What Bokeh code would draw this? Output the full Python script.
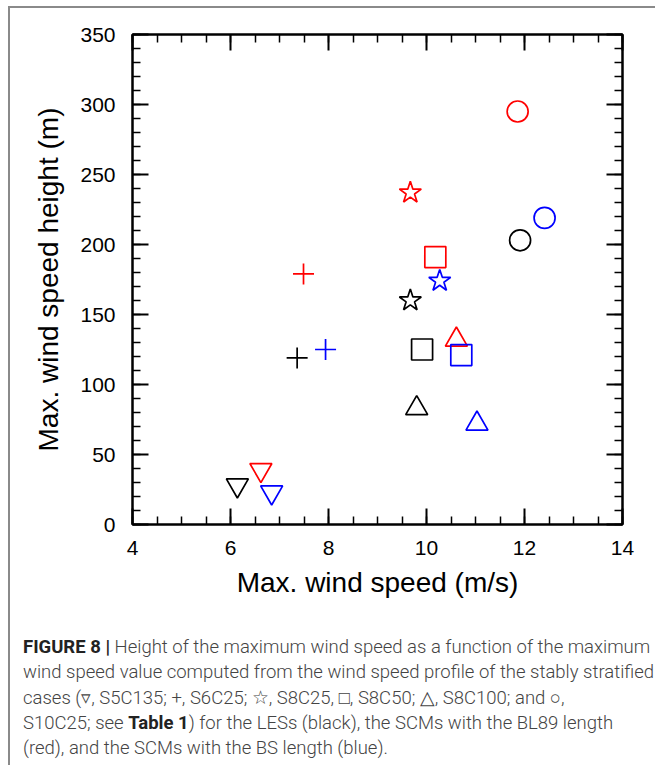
from bokeh.plotting import figure
from bokeh.models import (LinearAxis, SingleIntervalTicker, CustomJSTickFormatter,
                          Range1d, Div, ColumnDataSource)
from bokeh.layouts import column
from bokeh.embed import file_html
from bokeh.resources import INLINE

# ---------------- data ----------------
cases = ["S5C135", "S6C25", "S8C25", "S8C50", "S8C100", "S10C25"]
case_markers = ["inverted_triangle", "cross", "star", "square", "triangle", "circle"]

les_speed = [6.14, 7.36, 9.67, 9.91, 9.80, 11.91]
les_height = [28, 119, 160, 125, 83, 203]

bl89_speed = [6.62, 7.49, 9.67, 10.18, 10.61, 11.86]
bl89_height = [39, 179, 237, 191, 132, 295]

bs_speed = [6.84, 7.94, 10.27, 10.71, 11.03, 12.41]
bs_height = [23, 125, 174, 121, 72, 219]

series = [
    ("LES", les_speed, les_height, "#000000"),
    ("SCM BL89", bl89_speed, bl89_height, "#ff0000"),
    ("SCM BS", bs_speed, bs_height, "#0000ff"),
]

x_label = "Max. wind speed (m/s)"
y_label = "Max. wind speed height (m)"

# marker glyph sizes (style, not data)
marker_size = {"inverted_triangle": 22, "cross": 21, "star": 23,
               "square": 21, "triangle": 22, "circle": 21}

FONT = "Liberation Sans"

p = figure(frame_width=490, frame_height=490,
           x_range=Range1d(4, 14), y_range=Range1d(0, 350),
           x_axis_type=None, y_axis_type=None,
           output_backend="svg", toolbar_location=None,
           min_border_left=122, min_border_right=33,
           min_border_top=26, min_border_bottom=86)
p.outline_line_color = "black"
p.outline_line_width = 2
p.background_fill_color = "white"
p.border_fill_color = "white"


def style_axis(ax):
    ax.axis_line_width = 2
    ax.axis_line_color = "black"
    ax.major_tick_in = 16
    ax.major_tick_out = 0
    ax.minor_tick_in = 8
    ax.minor_tick_out = 0
    ax.major_tick_line_width = 2
    ax.minor_tick_line_width = 1.5
    ax.major_tick_line_color = "black"
    ax.minor_tick_line_color = "black"
    ax.major_label_text_font = FONT
    ax.major_label_text_font_size = "21px"
    ax.major_label_text_color = "black"
    ax.axis_label_text_font = FONT
    ax.axis_label_text_font_size = "28px"
    ax.axis_label_text_font_style = "normal"
    ax.axis_label_text_color = "black"


xb = LinearAxis(ticker=SingleIntervalTicker(interval=2, num_minor_ticks=4),
                axis_label=x_label)
style_axis(xb)
xb.major_label_standoff = 16
xb.axis_label_standoff = 9
p.add_layout(xb, "below")

yl = LinearAxis(ticker=SingleIntervalTicker(interval=50, num_minor_ticks=5),
                axis_label=y_label)
style_axis(yl)
yl.major_label_standoff = 17
yl.axis_label_standoff = 13
p.add_layout(yl, "left")

xt = LinearAxis(ticker=SingleIntervalTicker(interval=2, num_minor_ticks=4),
                formatter=CustomJSTickFormatter(code="return ''"))
style_axis(xt)
xt.major_label_standoff = 0
xt.major_label_text_font_size = "1px"
p.add_layout(xt, "above")

yr = LinearAxis(ticker=SingleIntervalTicker(interval=50, num_minor_ticks=5),
                formatter=CustomJSTickFormatter(code="return ''"))
style_axis(yr)
yr.major_label_standoff = 0
yr.major_label_text_font_size = "1px"
p.add_layout(yr, "right")

for name, xs, ys, color in series:
    src = ColumnDataSource(dict(x=xs, y=ys, marker=case_markers, case=cases,
                                size=[marker_size[m] for m in case_markers]))
    p.scatter("x", "y", marker="marker", size="size", source=src,
              fill_color=None, line_color=color, line_width=1.7)

caption = (
    '<div style="font-family:Roboto, sans-serif; font-weight:300; font-size:18.5px; '
    'line-height:25.3px; color:#444444; padding:20px 0 0 8px; white-space:nowrap;">'
    '<b style="color:#222; font-weight:700">FIGURE 8 |</b> Height of the maximum wind speed as a function of the maximum<br>'
    'wind speed value computed from the wind speed profile of the stably stratified<br>'
    'cases (\u25bf, S5C135; +, S6C25; \u2606, S8C25, \u25a1, S8C50; \u25b3, S8C100; and \u25cb,<br>'
    'S10C25; see <b style="color:#222; font-weight:700">Table 1</b>) for the LESs (black), the SCMs with the BL89 length<br>'
    '(red), and the SCMs with the BS length (blue).'
    '</div>'
)
div = Div(text=caption, width=645, height=147)

layout = column(p, div, spacing=0, margin=(6, 0, 0, 8),
                styles={"border-left": "2px solid #8a8a8a",
                        "border-top": "2px solid #8a8a8a",
                        "background-color": "white"})

open("out.html", "w").write(file_html(layout, INLINE))
